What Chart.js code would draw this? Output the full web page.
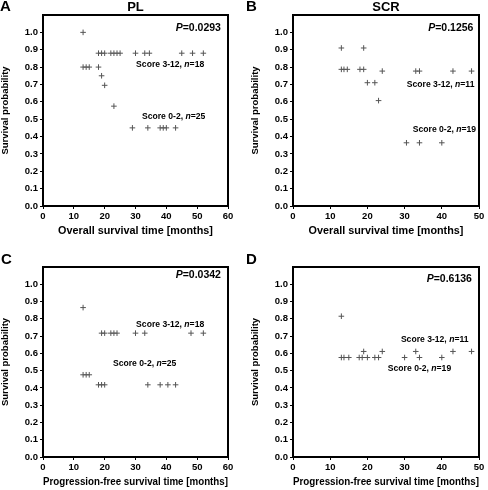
<!DOCTYPE html>
<html>
<head>
<meta charset="utf-8">
<script src="https://cdn.jsdelivr.net/npm/chart.js@4/dist/chart.umd.min.js"></script>
<style>
  body { margin: 0; background: #fff; }
  .wrap { position: relative; width: 488px; height: 490px; }
  .cell { position: absolute; width: 244px; height: 245px; }
</style>
</head>
<body>
<div class="wrap">
  <div class="cell" style="left:0;top:0"><canvas id="chartA"></canvas></div>
  <div class="cell" style="left:244px;top:0"><canvas id="chartB"></canvas></div>
  <div class="cell" style="left:0;top:245px"><canvas id="chartC"></canvas></div>
  <div class="cell" style="left:244px;top:245px"><canvas id="chartD"></canvas></div>
</div>
<script>
// tick labels
const yTicks = [0.0, 0.1, 0.2, 0.3, 0.4, 0.5, 0.6, 0.7, 0.8, 0.9, 1.0];

// A - PL, overall survival
const plOsHighX = [18, 19, 20, 22, 23, 24, 25, 30, 33, 34.5, 45, 48.5, 52];
const plOsHighY = [0.88, 0.88, 0.88, 0.88, 0.88, 0.88, 0.88, 0.88, 0.88, 0.88, 0.88, 0.88, 0.88];
const plOsLowX = [13, 13, 14, 15, 18, 19, 20, 23, 29, 34, 38, 39, 40, 43];
const plOsLowY = [1.0, 0.80, 0.80, 0.80, 0.80, 0.75, 0.695, 0.575, 0.45, 0.45, 0.45, 0.45, 0.45, 0.45];

// B - SCR, overall survival
const scrOsHighX = [13, 19, 24, 33, 34, 43, 48];
const scrOsHighY = [0.91, 0.91, 0.777, 0.777, 0.777, 0.777, 0.777];
const scrOsLowX = [13, 13.7, 14.6, 18, 19, 20, 22, 23, 30.5, 34, 40];
const scrOsLowY = [0.787, 0.787, 0.787, 0.787, 0.787, 0.71, 0.71, 0.607, 0.364, 0.364, 0.364];

// C - PL, progression-free survival
const plPfsHighX = [13, 19, 20, 22, 23, 24, 30, 33, 48, 52];
const plPfsHighY = [0.865, 0.717, 0.717, 0.717, 0.717, 0.717, 0.717, 0.717, 0.717, 0.717];
const plPfsLowX = [13, 14, 15, 18, 19, 20, 34, 38, 40.5, 43];
const plPfsLowY = [0.476, 0.476, 0.476, 0.418, 0.418, 0.418, 0.418, 0.418, 0.418, 0.418];

// D - SCR, progression-free survival
const scrPfsHighX = [19, 24, 33, 43, 48];
const scrPfsHighY = [0.611, 0.611, 0.611, 0.611, 0.611];
const scrPfsLowX = [13, 13, 13.7, 15, 17.8, 18.6, 20, 22, 23, 30, 34, 40];
const scrPfsLowY = [0.815, 0.576, 0.576, 0.576, 0.576, 0.576, 0.576, 0.576, 0.576, 0.576, 0.576, 0.576];

const FONT = "'Liberation Sans', Arial, sans-serif";

function points(xs, ys) {
  return xs.map((x, i) => ({ x: x, y: ys[i] }));
}

// draws text made of plain / italic parts
function drawParts(ctx, parts, x, y, size, align) {
  let total = 0;
  parts.forEach(p => {
    ctx.font = (p[1] ? 'italic ' : '') + 'bold ' + size + 'px ' + FONT;
    total += ctx.measureText(p[0]).width;
  });
  let cx = align === 'right' ? x - total : x;
  parts.forEach(p => {
    ctx.font = (p[1] ? 'italic ' : '') + 'bold ' + size + 'px ' + FONT;
    ctx.fillText(p[0], cx, y);
    cx += ctx.measureText(p[0]).width;
  });
}

const decoPlugin = {
  id: 'deco',
  afterDraw(chart, args, opts) {
    const { ctx, chartArea: a, scales } = chart;
    ctx.save();
    ctx.strokeStyle = '#000';
    ctx.lineWidth = 2;
    ctx.strokeRect(a.left, a.top, a.right - a.left, a.bottom - a.top);
    ctx.fillStyle = '#000';
    ctx.textBaseline = 'middle';
    ctx.textAlign = 'left';
    ctx.font = 'bold 15px ' + FONT;
    ctx.fillText(opts.letter, opts.letterX, opts.letterY);
    ctx.textAlign = 'center';
    ctx.font = 'bold 13px ' + FONT;
    ctx.fillText(opts.title, (a.left + a.right) / 2, opts.titleY);
    ctx.textAlign = 'left';
    opts.notes.forEach(n => {
      drawParts(ctx, n.parts, scales.x.getPixelForValue(n.x), scales.y.getPixelForValue(n.y), n.size, n.align);
    });
    ctx.restore();
  }
};

function makeChart(id, p) {
  const markStyle = {
    showLine: false,
    pointStyle: 'cross',
    pointRadius: 2.8,
    pointBorderWidth: 1,
    borderColor: '#555',
    backgroundColor: '#555'
  };
  return new Chart(document.getElementById(id), {
    type: 'scatter',
    data: {
      datasets: [
        Object.assign({ label: 'Score 3-12', data: points(p.highX, p.highY) }, markStyle),
        Object.assign({ label: 'Score 0-2', data: points(p.lowX, p.lowY) }, markStyle)
      ]
    },
    options: {
      responsive: true,
      maintainAspectRatio: false,
      animation: false,
      layout: { padding: p.padding },
      plugins: {
        legend: { display: false },
        tooltip: { enabled: false },
        deco: { letter: p.letter, letterX: p.letterX, letterY: p.letterY, title: p.title, titleY: p.titleY, notes: p.notes }
      },
      scales: {
        x: {
          type: 'linear',
          min: 0,
          max: p.xMax,
          afterFit(s) { s.height = 31.5; },
          ticks: { stepSize: 10, color: '#000', padding: 2, maxRotation: 0,
                   font: { family: FONT, weight: 'bold', size: 9.5 } },
          grid: { drawOnChartArea: false, drawTicks: true, tickLength: 3, color: '#000' },
          border: { display: false },
          title: { display: true, text: p.xTitle, color: '#000', padding: { top: 0, bottom: 0 },
                   font: { family: FONT, weight: 'bold', size: 10.8 } }
        },
        y: {
          type: 'linear',
          min: 0,
          max: 1.1,
          afterFit(s) { s.width = 43; },
          afterBuildTicks(s) { s.ticks = yTicks.map(v => ({ value: v })); },
          ticks: { color: '#000', padding: 2, callback: v => v.toFixed(1),
                   font: { family: FONT, weight: 'bold', size: 9.5 } },
          grid: { drawOnChartArea: false, drawTicks: true, tickLength: 3, color: '#000' },
          border: { display: false },
          title: { display: true, text: 'Survival probability', color: '#000', padding: { top: 0, bottom: 0 },
                   font: { family: FONT, weight: 'bold', size: 9.5 } }
        }
      }
    },
    plugins: [decoPlugin]
  });
}

makeChart('chartA', {
  highX: plOsHighX, highY: plOsHighY, lowX: plOsLowX, lowY: plOsLowY,
  xMax: 60, xTitle: 'Overall survival time [months]',
  padding: { left: 0, top: 15, right: 16, bottom: 7.5 },
  letter: 'A', letterX: 0, letterY: 7, title: 'PL', titleY: 7.5,
  notes: [
    { parts: [['P', true], ['=0.0293', false]], x: 57.7, y: 1.025, size: 10.5, align: 'right' },
    { parts: [['Score 3-12, ', false], ['n', true], ['=18', false]], x: 30.2, y: 0.812, size: 8.6 },
    { parts: [['Score 0-2, ', false], ['n', true], ['=25', false]], x: 32.1, y: 0.513, size: 8.6 }
  ]
});

makeChart('chartB', {
  highX: scrOsHighX, highY: scrOsHighY, lowX: scrOsLowX, lowY: scrOsLowY,
  xMax: 50, xTitle: 'Overall survival time [months]',
  padding: { left: 6, top: 15, right: 9, bottom: 7.5 },
  letter: 'B', letterX: 2, letterY: 7, title: 'SCR', titleY: 7.5,
  notes: [
    { parts: [['P', true], ['=0.1256', false]], x: 48.5, y: 1.024, size: 10.5, align: 'right' },
    { parts: [['Score 3-12, ', false], ['n', true], ['=11', false]], x: 30.6, y: 0.70, size: 8.6 },
    { parts: [['Score 0-2, ', false], ['n', true], ['=19', false]], x: 32.2, y: 0.442, size: 8.6 }
  ]
});

makeChart('chartC', {
  highX: plPfsHighX, highY: plPfsHighY, lowX: plPfsLowX, lowY: plPfsLowY,
  xMax: 60, xTitle: 'Progression-free survival time [months]',
  padding: { left: 0, top: 22, right: 16, bottom: 1.5 },
  letter: 'C', letterX: 1, letterY: 15, title: '', titleY: 7,
  notes: [
    { parts: [['P', true], ['=0.0342', false]], x: 57.7, y: 1.055, size: 10.5, align: 'right' },
    { parts: [['Score 3-12, ', false], ['n', true], ['=18', false]], x: 30.2, y: 0.769, size: 8.6 },
    { parts: [['Score 0-2, ', false], ['n', true], ['=25', false]], x: 22.7, y: 0.543, size: 8.6 }
  ]
});

makeChart('chartD', {
  highX: scrPfsHighX, highY: scrPfsHighY, lowX: scrPfsLowX, lowY: scrPfsLowY,
  xMax: 50, xTitle: 'Progression-free survival time [months]',
  padding: { left: 6, top: 22, right: 9, bottom: 1.5 },
  letter: 'D', letterX: 2, letterY: 15, title: '', titleY: 7,
  notes: [
    { parts: [['P', true], ['=0.6136', false]], x: 48.1, y: 1.03, size: 10.5, align: 'right' },
    { parts: [['Score 3-12, ', false], ['n', true], ['=11', false]], x: 29, y: 0.682, size: 8.6 },
    { parts: [['Score 0-2, ', false], ['n', true], ['=19', false]], x: 25.5, y: 0.509, size: 8.6 }
  ]
});
</script>
</body>
</html>
